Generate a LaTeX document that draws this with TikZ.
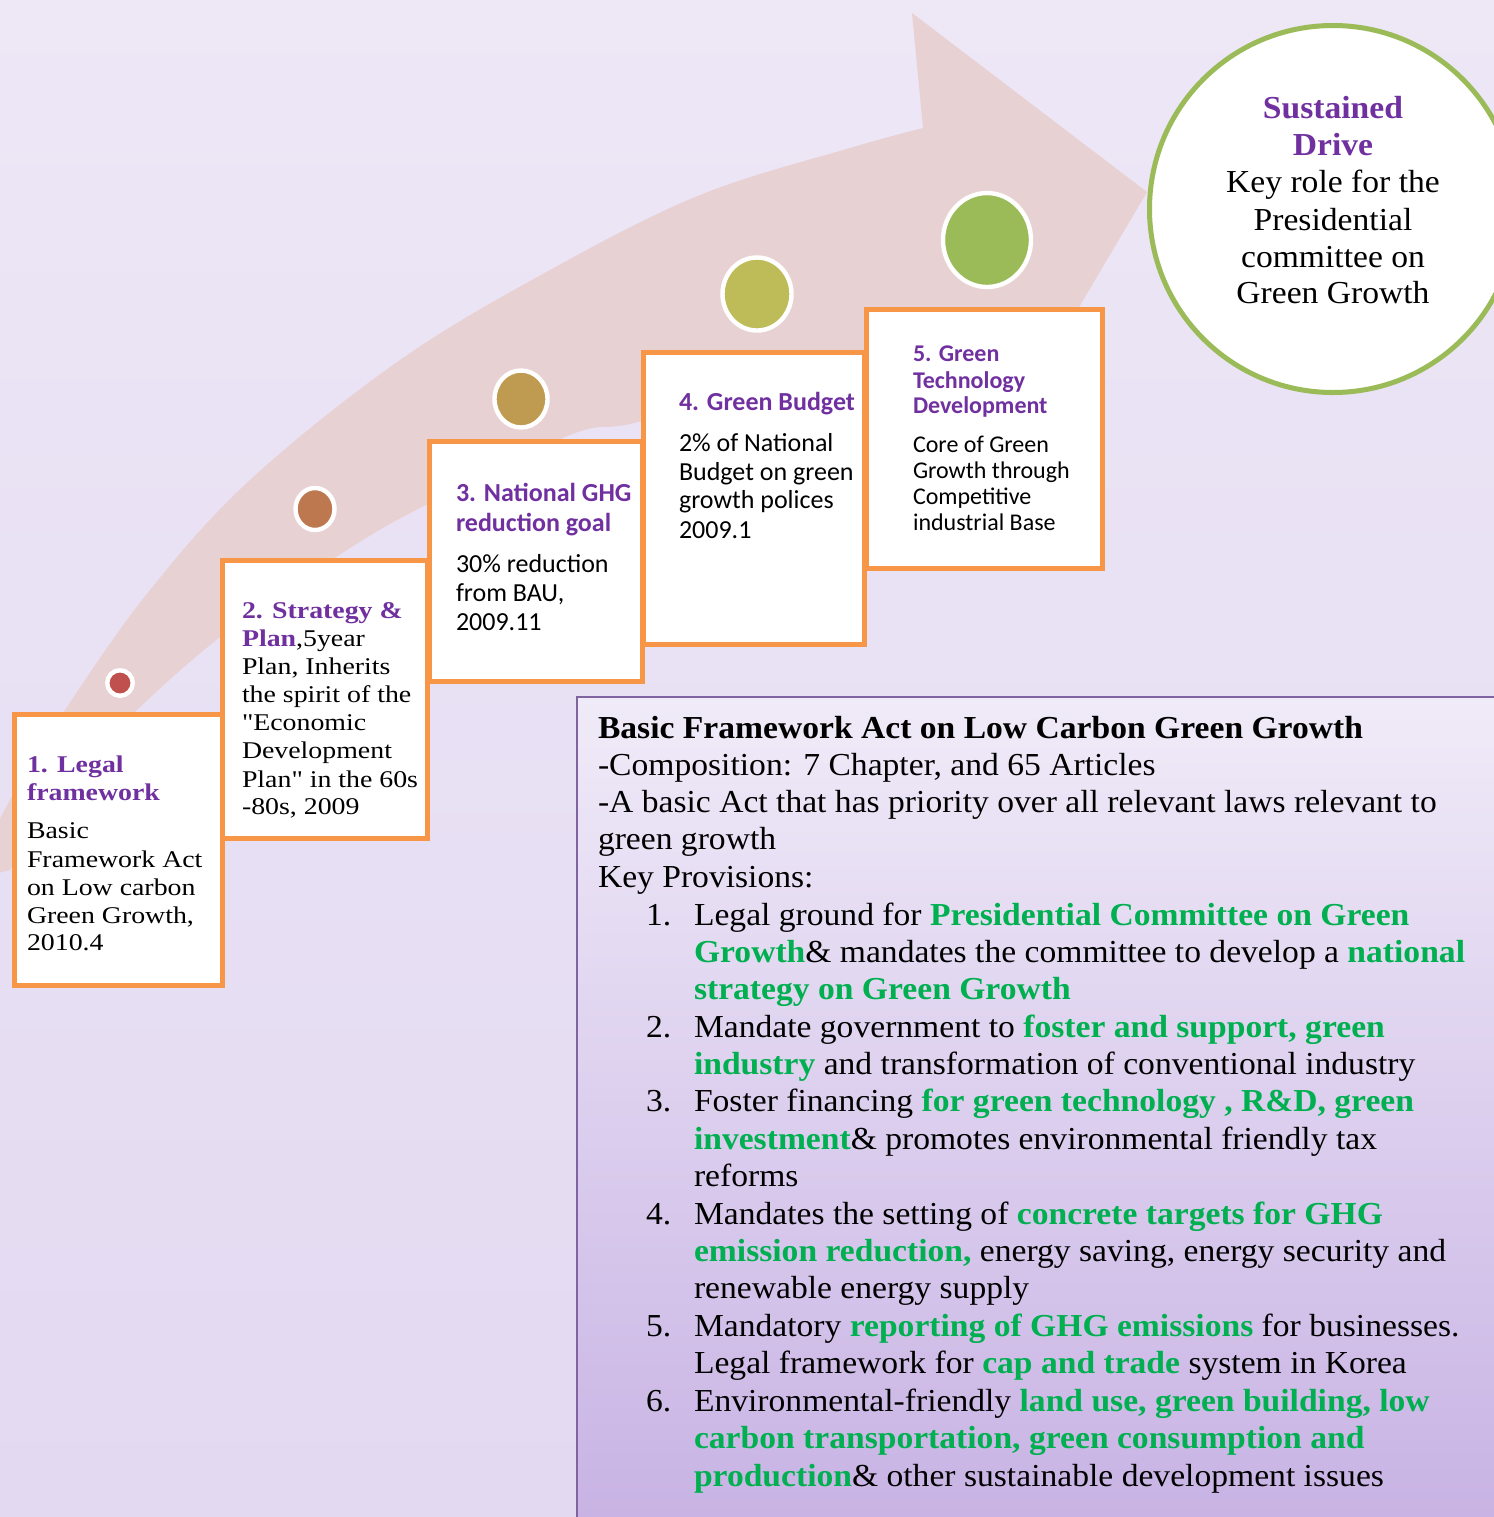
\documentclass[tikz,border=0pt]{standalone}
\usepackage{fontspec}
\setmainfont{Liberation Serif}[FakeStretch=1.05]
\newfontfamily\camb{Liberation Serif}[FakeStretch=1.05]
\newfontfamily\cambw{Liberation Serif}[FakeStretch=1.16]
\newfontfamily\calib{Carlito}
\usetikzlibrary{shapes.geometric}
\definecolor{bgtop}{HTML}{EDE7F6}
\definecolor{bgbot}{HTML}{E3D9F1}
\definecolor{arrowpink}{HTML}{E8D1D3}
\definecolor{orangeb}{HTML}{F79646}
\definecolor{ttlpurple}{HTML}{7030A0}
\definecolor{grn}{HTML}{00B050}
\definecolor{circgreen}{HTML}{9BBB59}
\definecolor{boxpurple}{HTML}{8064A2}
\definecolor{boxtop}{HTML}{F0EBF8}
\definecolor{boxbot}{HTML}{C8B3E4}
\definecolor{dotA}{HTML}{C0504D}
\definecolor{dotB}{HTML}{BE7850}
\definecolor{dotC}{HTML}{BF9B52}
\definecolor{dotD}{HTML}{BDBC58}
\definecolor{dotE}{HTML}{9BBB59}
\newcommand{\GreenB}[1]{{\color{grn}\bfseries #1}}
\newcommand{\PurB}[1]{{\color{ttlpurple}\bfseries #1}}
\tikzset{
  stepbox/.style={draw=orangeb, line width=2.5pt, fill=white, rectangle, inner sep=0pt, anchor=north west},
  dotnode/.style={ellipse, draw=white, line width=2.2pt, inner sep=0pt},
  ln/.style={anchor=base west, inner sep=0pt, outer sep=0pt},
  lc/.style={anchor=base, inner sep=0pt, outer sep=0pt},
  serA/.style={font=\cambw\fontsize{12}{14}\selectfont},
  sanA/.style={font=\calib\fontsize{13}{15}\selectfont},
  sanB/.style={font=\calib\fontsize{12}{14}\selectfont},
  big/.style={font=\camb\fontsize{16}{18.7}\selectfont},
}
\begin{document}
\begin{tikzpicture}[x=0.5pt,y=-0.5pt]
\useasboundingbox (0,0) rectangle (1494,1517);
\clip (0,0) rectangle (1494,1517);
% background
\shade[top color=bgtop, bottom color=bgbot] (0,0) rectangle (1494,1517);
% big curved arrow
\fill[arrowpink] plot[smooth, tension=0.6] coordinates {(-30,880) (10,800) (67,707) (150,590) (250,480) (400,360) (550,270) (700,195) (850,148) (923,128)}
  -- (912,13) -- (1147,192) -- (997,446) -- (964,336)
  -- plot[smooth, tension=0.6] coordinates {(964,336) (800,375) (638,422) (570,435) (422,507) (347,550) (233,627) (140,707) (60,790) (10,870)} -- cycle;
% dots
\node[dotnode, fill=dotA, minimum width=12.75pt, minimum height=12.75pt] (d1) at (120,683) {};
\node[dotnode, fill=dotB, minimum width=19.5pt, minimum height=21pt] (d2) at (315,509) {};
\node[dotnode, fill=dotC, minimum width=26.5pt, minimum height=28.5pt] (d3) at (521,399) {};
\node[dotnode, fill=dotD, minimum width=34.5pt, minimum height=36.5pt] (d4) at (757,294) {};
\node[dotnode, fill=dotE, minimum width=44pt, minimum height=47pt] (d5) at (987,240) {};
% step boxes
\node[stepbox, minimum width=104pt, minimum height=135.5pt] (b1) at (12,712) {};
\node[stepbox, minimum width=102.5pt, minimum height=139pt] (b2) at (220,558) {};
\node[stepbox, minimum width=106.5pt, minimum height=120pt] (b3) at (427,439) {};
\node[stepbox, minimum width=110.5pt, minimum height=146pt] (b4) at (641,350) {};
\node[stepbox, minimum width=118pt, minimum height=129.5pt] (b5) at (864,307) {};
% box 1 text
\node[ln,serA] (a1) at (27,772) {\PurB{1. Legal}};
\node[ln,serA] (a2) at (27,800) {\PurB{framework}};
\node[ln,serA] (a3) at (27,838) {Basic};
\node[ln,serA] (a4) at (27,867) {Framework Act};
\node[ln,serA] (a5) at (27,895) {on Low carbon};
\node[ln,serA] (a6) at (27,923) {Green Growth,};
\node[ln,serA] (a7) at (27,950) {2010.4};
% box 2 text
\node[ln,serA] (c1) at (242,618) {\PurB{2. Strategy \&}};
\node[ln,serA] (c2) at (242,646) {\PurB{Plan},5year};
\node[ln,serA] (c3) at (242,674) {Plan, Inherits};
\node[ln,serA] (c4) at (242,702) {the spirit of the};
\node[ln,serA] (c5) at (242,730) {"Economic};
\node[ln,serA] (c6) at (242,758) {Development};
\node[ln,serA] (c7) at (242,787) {Plan" in the 60s};
\node[ln,serA] (c8) at (242,814) {-80s, 2009};
% box 3 text
\node[ln,sanA] (e1) at (456,501) {\PurB{3. National GHG}};
\node[ln,sanA] (e2) at (456,531) {\PurB{reduction goal}};
\node[ln,sanA] (e3) at (456,572) {30\% reduction};
\node[ln,sanA] (e4) at (456,601) {from BAU,};
\node[ln,sanA] (e5) at (456,630) {2009.11};
% box 4 text
\node[ln,sanA] (f1) at (679,410) {\PurB{4. Green Budget}};
\node[ln,sanA] (f2) at (679,451) {2\% of National};
\node[ln,sanA] (f3) at (679,480) {Budget on green};
\node[ln,sanA] (f4) at (679,508) {growth polices};
\node[ln,sanA] (f5) at (679,538) {2009.1};
% box 5 text
\node[ln,sanB] (g1) at (913,361) {\PurB{5. Green}};
\node[ln,sanB] (g2) at (913,388) {\PurB{Technology}};
\node[ln,sanB] (g3) at (913,413) {\PurB{Development}};
\node[ln,sanB] (g4) at (913,452) {Core of Green};
\node[ln,sanB] (g5) at (913,478) {Growth through};
\node[ln,sanB] (g6) at (913,504) {Competitive};
\node[ln,sanB] (g7) at (913,530) {industrial Base};
% big circle
\node[circle, draw=circgreen, line width=2.5pt, fill=white, minimum size=183.5pt, inner sep=0pt] (goal) at (1333,209) {};
\node[lc,big] (h1) at (1333,118) {\PurB{Sustained}};
\node[lc,big] (h2) at (1333,155) {\PurB{Drive}};
\node[lc,big] (h3) at (1333,192) {Key role for the};
\node[lc,big] (h4) at (1333,230) {Presidential};
\node[lc,big] (h5) at (1333,267) {committee on};
\node[lc,big] (h6) at (1333,303) {Green Growth};
% bottom text box
\shade[top color=boxtop, bottom color=boxbot] (577,697) rectangle (1500,1520);
\draw[boxpurple, line width=1.2pt] (577,1520) -- (577,697) -- (1500,697);
\node[ln,big] (t1) at (598,738) {\bfseries Basic Framework Act on Low Carbon Green Growth};
\node[ln,big] (t2) at (598,775) {-Composition: 7 Chapter, and 65 Articles};
\node[ln,big] (t3) at (598,812) {-A basic Act that has priority over all relevant laws relevant to};
\node[ln,big] (t4) at (598,849) {green growth};
\node[ln,big] (t5) at (598,887) {Key Provisions:};
\node[ln,big] (n1) at (646,925) {1.};
\node[ln,big] (t6) at (694,925) {Legal ground for \GreenB{Presidential Committee on Green}};
\node[ln,big] (t7) at (694,962) {\GreenB{Growth}\& mandates the committee to develop a \GreenB{national}};
\node[ln,big] (t8) at (694,999) {\GreenB{strategy on Green Growth}};
\node[ln,big] (n2) at (646,1037) {2.};
\node[ln,big] (t9) at (694,1037) {Mandate government to \GreenB{foster and support, green}};
\node[ln,big] (t10) at (694,1074) {\GreenB{industry} and transformation of conventional industry};
\node[ln,big] (n3) at (646,1111) {3.};
\node[ln,big] (t11) at (694,1111) {Foster financing \GreenB{for green technology , R\&D, green}};
\node[ln,big] (t12) at (694,1149) {\GreenB{investment}\& promotes environmental friendly tax};
\node[ln,big] (t13) at (694,1186) {reforms};
\node[ln,big] (n4) at (646,1224) {4.};
\node[ln,big] (t14) at (694,1224) {Mandates the setting of \GreenB{concrete targets for GHG}};
\node[ln,big] (t15) at (694,1261) {\GreenB{emission reduction,} energy saving, energy security and};
\node[ln,big] (t16) at (694,1298) {renewable energy supply};
\node[ln,big] (n5) at (646,1336) {5.};
\node[ln,big] (t17) at (694,1336) {Mandatory \GreenB{reporting of GHG emissions} for businesses.};
\node[ln,big] (t18) at (694,1373) {Legal framework for \GreenB{cap and trade} system in Korea};
\node[ln,big] (n6) at (646,1411) {6.};
\node[ln,big] (t19) at (694,1411) {Environmental-friendly \GreenB{land use, green building, low}};
\node[ln,big] (t20) at (694,1448) {\GreenB{carbon transportation, green consumption and}};
\node[ln,big] (t21) at (694,1486) {\GreenB{production}\& other sustainable development issues};
\end{tikzpicture}
\end{document}
